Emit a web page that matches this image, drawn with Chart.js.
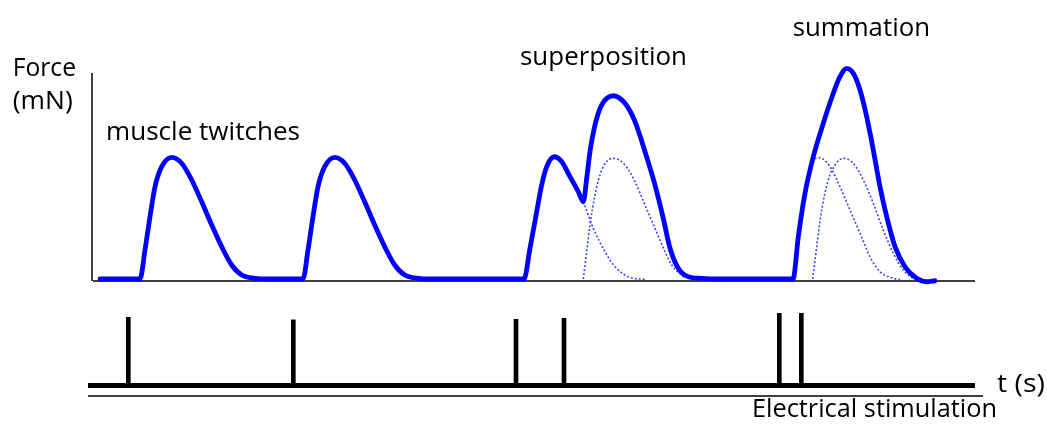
<!DOCTYPE html>
<html>
<head>
<meta charset="utf-8">
<script src="https://cdn.jsdelivr.net/npm/chart.js@4"></script>
<style>
    body { margin: 0; background: #fff; }
    canvas { display: block; }
</style>
</head>
<body>
<canvas id="twitchChart" width="1047" height="428"></canvas>
<script>
// time in ms, force in mN
const forceTime = [12, 52, 57, 62, 67, 73.7, 83.7, 93.7, 103.7, 113.7, 123.7, 133.7, 143.7, 153.7, 167, 180,
    215, 220, 225, 230, 236.7, 246.7, 256.7, 266.7, 276.7, 286.7, 296.7, 306.7, 316.7, 330, 343,
    436, 442, 448.7, 453.7, 458.7, 466.3, 473.7, 482, 490.3, 495.3, 498.7, 502, 507, 513.7, 525.3, 537, 547, 557, 567, 575.3, 582, 590.3, 600.3, 613.7, 627,
    705, 710.3, 717, 725.3, 735.3, 745.3, 752, 758.7, 765.3, 772, 778.7, 785.3, 792, 798.7, 807, 817, 828.7, 838.7, 847];
const forceValue = [0, 0, 2.36, 5.07, 7.5, 9.13, 9.89, 9.41, 8.05, 6.28, 4.39, 2.63, 1.14, 0.33, 0.06, 0,
    0, 2.36, 5.07, 7.5, 9.13, 9.89, 9.41, 8.05, 6.28, 4.39, 2.63, 1.14, 0.33, 0.06, 0,
    0, 2.5, 5.47, 7.64, 9.13, 9.94, 9.54, 8.32, 7.1, 6.28, 8.19, 10.35, 12.52, 14.15, 14.9, 14.28, 12.79, 10.35, 7.64, 4.93, 2.5, 0.87, 0.19, 0.06, 0,
    0, 3.44, 6.97, 9.94, 12.66, 15.1, 16.45, 17.13, 16.72, 15.37, 13.2, 10.49, 7.5, 5.07, 2.63, 1.0, 0.06, -0.22, -0.14];

// single twitches hidden under the superposition / summation
const superDot1Time = [495.3, 505.3, 517, 527, 540.3, 558.7];
const superDot1Force = [6.28, 4.12, 2.22, 1.0, 0.19, -0.05];
const superDot2Time = [495.3, 498.7, 502, 507, 513.7, 525.3, 537, 547, 557, 567, 577, 583.7, 597];
const superDot2Force = [0, 2.22, 4.39, 6.83, 8.86, 9.81, 9.27, 7.91, 6.02, 4.12, 2.22, 1.14, 0.06];
const sumDot1Time = [717, 723.7, 731.3, 742, 752, 762, 772, 782, 792, 805.3, 812];
const sumDot1Force = [6.97, 9.4, 9.86, 9.13, 7.5, 5.61, 3.72, 1.81, 0.59, 0.06, -0.05];
const sumDot2Time = [724.7, 728.7, 733.7, 740.3, 747, 755.3, 765.3, 775.3, 785.3, 795.3, 805.3, 815.3, 825.3, 835.3];
const sumDot2Force = [0, 2.63, 5.61, 8.05, 9.27, 9.81, 9.41, 8.05, 6.15, 3.98, 2.09, 0.73, 0.06, -0.1];

// electrical stimuli
const stimTimes = [40.3, 205.3, 428, 476, 691.3, 713.3];
const stimAmp = [3.41, 3.28, 3.31, 3.36, 3.61, 3.61];

const toPoints = (xs, ys) => xs.map((x, i) => ({ x: x, y: ys[i] }));

const BLUE = '#0000ff';

const dotted = (xs, ys) => ({
    type: 'line',
    data: toPoints(xs, ys),
    borderColor: 'rgba(30, 30, 255, 0.85)',
    borderWidth: 1.6,
    borderDash: [2, 2],
    pointRadius: 0,
    cubicInterpolationMode: 'monotone',
    yAxisID: 'y',
    order: 2
});

// texte dans le canvas
const labelPlugin = {
    id: 'labels',
    afterDraw(chart) {
        const ctx = chart.ctx;
        const labels = [
            ['Force', 12.7, 76, 63.3],
            ['(mN)', 12.7, 109, 60],
            ['muscle twitches', 106, 140, 194],
            ['superposition', 520, 65, 167],
            ['summation', 792.7, 36, 137.3],
            ['t (s)', 997, 392, 48],
            ['Electrical stimulation', 752, 416.5, 245]
        ];
        ctx.save();
        ctx.fillStyle = '#000';
        ctx.font = '25px "Open Sans"';
        ctx.textBaseline = 'alphabetic';
        labels.forEach(([text, x, y, w]) => {
            const sx = w / ctx.measureText(text).width;
            ctx.save();
            ctx.translate(x, y);
            ctx.scale(sx, 1);
            ctx.fillText(text, 0, 0);
            ctx.restore();
        });
        ctx.restore();
    }
};

new Chart(document.getElementById('twitchChart'), {
    type: 'line',
    data: {
        datasets: [
            {
                // force axis
                data: [{ x: 4, y: -0.16 }, { x: 4, y: 16.75 }],
                borderColor: '#000', borderWidth: 1.5, pointRadius: 0, yAxisID: 'y', order: 5
            },
            {
                // force baseline
                data: [{ x: 5, y: -0.16 }, { x: 887, y: -0.16 }],
                borderColor: '#000', borderWidth: 1.5, pointRadius: 0, yAxisID: 'y', order: 5
            },
            dotted(superDot1Time, superDot1Force),
            dotted(superDot2Time, superDot2Force),
            dotted(sumDot1Time, sumDot1Force),
            dotted(sumDot2Time, sumDot2Force),
            {
                data: toPoints(forceTime, forceValue),
                borderColor: BLUE,
                borderWidth: 4.8,
                borderJoinStyle: 'round',
                borderCapStyle: 'round',
                pointRadius: 0,
                cubicInterpolationMode: 'monotone',
                yAxisID: 'y',
                order: 1
            },
            {
                type: 'bar',
                data: toPoints(stimTimes, stimAmp),
                backgroundColor: '#000',
                barThickness: 4,
                yAxisID: 'y2',
                order: 4
            },
            {
                // stimulation line
                data: [{ x: 0, y: 0 }, { x: 887, y: 0 }],
                borderColor: '#000', borderWidth: 5, pointRadius: 0, yAxisID: 'y2', order: 3
            },
            {
                data: [{ x: 0, y: -0.525 }, { x: 895, y: -0.525 }],
                borderColor: '#000', borderWidth: 1.5, pointRadius: 0, yAxisID: 'y2', order: 3
            }
        ]
    },
    options: {
        responsive: false,
        animation: false,
        devicePixelRatio: 1,
        layout: { padding: { left: 88, right: 64, top: 33, bottom: 24 } },
        plugins: { legend: { display: false }, tooltip: { enabled: false } },
        scales: {
            x: { type: 'linear', min: 0, max: 895, offset: false, display: false },
            y: { type: 'linear', min: -10.16, max: 20, display: false },
            y2: { type: 'linear', min: -0.925, max: 17.625, display: false }
        }
    },
    plugins: [labelPlugin]
});
</script>
</body>
</html>
